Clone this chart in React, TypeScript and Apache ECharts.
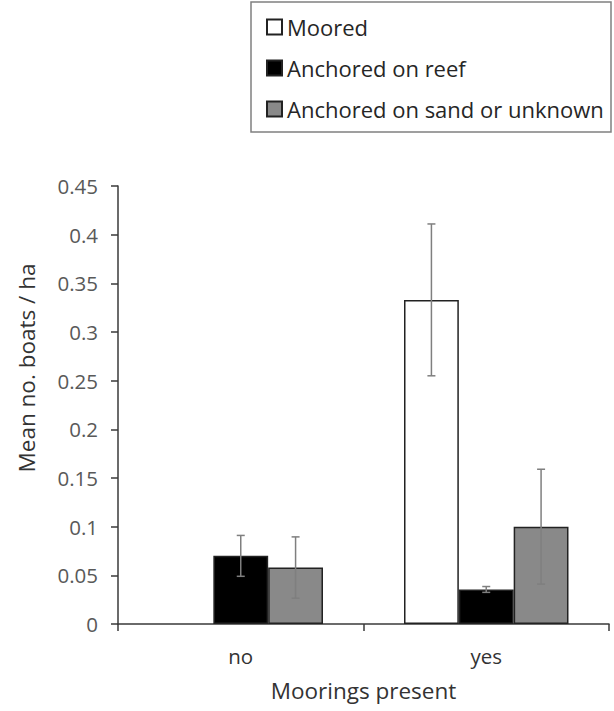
import React, { useEffect, useRef } from "react";
import * as echarts from "echarts";

const categories = ["no", "yes"];
const seriesNames = ["Moored", "Anchored on reef", "Anchored on sand or unknown"];
const mooredValues = [null, 0.333];
const reefValues = [0.070, 0.0355];
const sandValues = [0.058, 0.100];
const mooredErr = [null, 0.078];
const reefErr = [0.021, 0.003];
const sandErr = [0.0315, 0.059];
const yTicks = { min: 0, max: 0.45, interval: 0.05 };

const FONT = "Open Sans";
const TEXT = "#595959";
const AXIS = "#3a3a3a";

export default function App() {
  const ref = useRef<HTMLDivElement>(null);
  useEffect(() => {
    if (!ref.current) return;
    const chart = echarts.init(ref.current, undefined, { renderer: "svg" });
    const values = [mooredValues, reefValues, sandValues];
    const errs = [mooredErr, reefErr, sandErr];
    const fills = ["#ffffff", "#000000", "#898989"];
    const gapFrac = 0.33;

    const barSeries = values.map((v, i) => ({
      name: seriesNames[i],
      type: "bar",
      data: v.map((x) => (x == null ? "-" : x)),
      barGap: "0%",
      barCategoryGap: "33%",
      itemStyle: { color: fills[i], borderColor: "#222", borderWidth: 1.5 },
      emphasis: { disabled: true },
    }));

    const errData: any[] = [];
    values.forEach((v, s) => {
      v.forEach((val, c) => {
        const e = errs[s][c];
        if (e != null && val != null) errData.push([c, val, e, s]);
      });
    });

    const errSeries = {
      type: "custom",
      name: "err",
      data: errData,
      z: 10,
      renderItem: (params: any, api: any) => {
        const c = api.value(0);
        const val = api.value(1);
        const e = api.value(2);
        const s = api.value(3);
        const band = api.size([1, 0])[0];
        const bw = (band * (1 - gapFrac)) / 3;
        const center = api.coord([c, val]);
        const x = center[0] + (s - 1) * bw;
        const top = api.coord([c, val + e])[1];
        const bot = api.coord([c, val - e])[1];
        const cap = 4;
        const st = { stroke: "#7f7f7f", lineWidth: 1.5 };
        return {
          type: "group",
          children: [
            { type: "line", shape: { x1: x, y1: top, x2: x, y2: bot }, style: st },
            { type: "line", shape: { x1: x - cap, y1: top, x2: x + cap, y2: top }, style: st },
            { type: "line", shape: { x1: x - cap, y1: bot, x2: x + cap, y2: bot }, style: st },
          ],
        };
      },
    };

    chart.setOption({
      animation: false,
      backgroundColor: "#ffffff",
      grid: { left: 118, right: 5, top: 186, bottom: 87, containLabel: false },
      legend: {
        data: seriesNames,
        orient: "vertical",
        left: 266,
        top: 15,
        padding: 0,
        itemWidth: 15,
        itemHeight: 15,
        itemGap: 17,
        icon: "rect",
        selectedMode: false,
        textStyle: { fontFamily: FONT, fontSize: 22, color: "#262626", lineHeight: 24 },
      },
      graphic: [
        {
          type: "rect",
          shape: { x: 251, y: 2, width: 360, height: 130 },
          style: { fill: "none", stroke: "#808080", lineWidth: 1.5 },
        },
        {
          type: "text",
          x: 26,
          y: 368,
          rotation: Math.PI / 2,
          style: {
            text: "Mean no. boats / ha",
            fontFamily: FONT,
            fontSize: 22.5,
            fill: "#333",
            align: "center",
            verticalAlign: "middle",
          },
        },
      ],
      xAxis: {
        type: "category",
        data: categories,
        name: "Moorings present",
        nameLocation: "middle",
        nameGap: 55,
        nameTextStyle: { fontFamily: FONT, fontSize: 22.5, color: "#333" },
        axisLine: { lineStyle: { color: AXIS, width: 1.5 } },
        axisTick: { show: true, length: 7, interval: 0, lineStyle: { color: AXIS, width: 1.5 } },
        axisLabel: { fontFamily: FONT, fontSize: 20.5, color: "#333", margin: 21 },
        splitLine: { show: false },
      },
      yAxis: {
        type: "value",
        min: yTicks.min,
        max: yTicks.max,
        interval: yTicks.interval,
        axisLine: { show: true, lineStyle: { color: AXIS, width: 1.5 } },
        axisTick: { show: true, length: 7, lineStyle: { color: AXIS, width: 1.5 } },
        axisLabel: { fontFamily: FONT, fontSize: 20.5, color: TEXT, margin: 20 },
        splitLine: { show: false },
      },
      series: [...barSeries, errSeries],
    });
    return () => chart.dispose();
  }, []);
  return (
    <div
      ref={ref}
      style={{ position: "fixed", left: 0, top: 0, width: 614, height: 711 }}
    />
  );
}
